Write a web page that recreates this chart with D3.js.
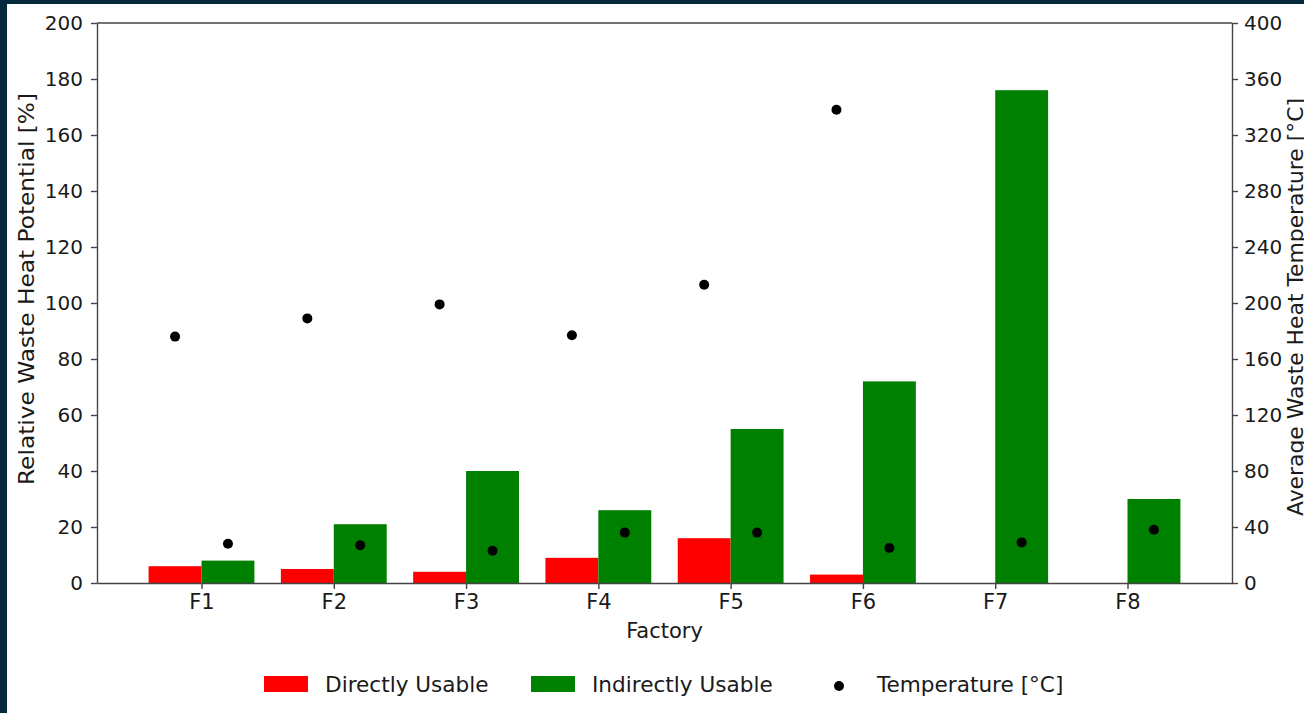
<!DOCTYPE html>
<html>
<head>
<meta charset="utf-8">
<script src="https://cdn.jsdelivr.net/npm/d3@7/dist/d3.min.js"></script>
<style>
  html, body { margin: 0; padding: 0; background: #03293a; }
  svg { display: block; }
  text { font-family: "DejaVu Sans", sans-serif; fill: #1a1a1a; }
</style>
</head>
<body>
<svg id="chart" width="1304" height="713"></svg>
<script>
const categories = ["F1", "F2", "F3", "F4", "F5", "F6", "F7", "F8"];
const directlyUsable = [6, 5, 4, 9, 16, 3, 0, 0];
const indirectlyUsable = [8, 21, 40, 26, 55, 72, 176, 30];
const tempDirect = [176, 189, 199, 177, 213, 338, null, null];
const tempIndirect = [28, 27, 23, 36, 36, 25, 29, 38];
const leftTicks = [0, 20, 40, 60, 80, 100, 120, 140, 160, 180, 200];
const rightTicks = [0, 40, 80, 120, 160, 200, 240, 280, 320, 360, 400];
const legendLabels = ["Directly Usable", "Indirectly Usable", "Temperature [°C]"];

const W = 1304, H = 713;
const plot = { left: 97, right: 1232, top: 23, bottom: 583 };
const barW = 0.4;

const svg = d3.select("#chart");
svg.append("rect").attr("x", 0).attr("y", 0).attr("width", W).attr("height", H).attr("fill", "#03293a");
svg.append("rect").attr("x", 7).attr("y", 4).attr("width", W - 7).attr("height", H - 4).attr("fill", "#ffffff");

const x = d3.scaleLinear().domain([-0.79, 7.79]).range([plot.left, plot.right]);
const yL = d3.scaleLinear().domain([0, 200]).range([plot.bottom, plot.top]);
const yR = d3.scaleLinear().domain([0, 400]).range([plot.bottom, plot.top]);
const bw = x(barW) - x(0);

const g = svg.append("g");

// bars
g.selectAll("rect.direct").data(directlyUsable).join("rect")
  .attr("class", "direct")
  .attr("x", (d, i) => x(i - barW))
  .attr("width", bw)
  .attr("y", d => yL(d))
  .attr("height", d => yL(0) - yL(d))
  .attr("fill", "#ff0000");

g.selectAll("rect.indirect").data(indirectlyUsable).join("rect")
  .attr("class", "indirect")
  .attr("x", (d, i) => x(i))
  .attr("width", bw)
  .attr("y", d => yL(d))
  .attr("height", d => yL(0) - yL(d))
  .attr("fill", "#008000");

// temperature dots
const dots = [];
tempDirect.forEach((t, i) => { if (t !== null) dots.push({ xv: i - barW / 2, t }); });
tempIndirect.forEach((t, i) => { if (t !== null) dots.push({ xv: i + barW / 2, t }); });
g.selectAll("circle.temp").data(dots).join("circle")
  .attr("class", "temp")
  .attr("cx", d => x(d.xv))
  .attr("cy", d => yR(d.t))
  .attr("r", 5)
  .attr("fill", "#000000");

// axes
const axisColor = "#444";
function styleAxis(sel) {
  sel.selectAll("path.domain").attr("stroke", axisColor).attr("stroke-width", 1.4);
  sel.selectAll(".tick line").attr("stroke", axisColor).attr("stroke-width", 1.4);
  sel.selectAll(".tick text").attr("font-size", 20).attr("font-family", "DejaVu Sans").attr("fill", "#1a1a1a");
}

const axB = svg.append("g").attr("transform", `translate(0,${plot.bottom})`)
  .call(d3.axisBottom(x).tickValues(d3.range(categories.length)).tickFormat(i => categories[i])
    .tickSizeInner(6).tickSizeOuter(0).tickPadding(5));
styleAxis(axB);
axB.selectAll(".tick text").attr("font-size", 21);

const axL = svg.append("g").attr("transform", `translate(${plot.left},0)`)
  .call(d3.axisLeft(yL).tickValues(leftTicks).tickFormat(d3.format("d"))
    .tickSizeInner(6).tickSizeOuter(0).tickPadding(8));
styleAxis(axL);

const axR = svg.append("g").attr("transform", `translate(${plot.right},0)`)
  .call(d3.axisRight(yR).tickValues(rightTicks).tickFormat(d3.format("d"))
    .tickSizeInner(6).tickSizeOuter(0).tickPadding(6));
styleAxis(axR);

// top spine
svg.append("line").attr("x1", plot.left).attr("x2", plot.right)
  .attr("y1", plot.top).attr("y2", plot.top)
  .attr("stroke", axisColor).attr("stroke-width", 1.4);

// axis titles
svg.append("text").attr("x", (plot.left + plot.right) / 2).attr("y", 638)
  .attr("text-anchor", "middle").attr("font-size", 21).text("Factory");

svg.append("text")
  .attr("transform", `translate(27,289) rotate(-90)`)
  .attr("dy", "0.35em")
  .attr("text-anchor", "middle").attr("font-size", 20.5)
  .attr("textLength", 392).attr("lengthAdjust", "spacingAndGlyphs")
  .text("Relative Waste Heat Potential [%]");

svg.append("text")
  .attr("transform", `translate(1296,307) rotate(-90)`)
  .attr("dy", "0.35em")
  .attr("text-anchor", "middle").attr("font-size", 20.5)
  .attr("textLength", 418).attr("lengthAdjust", "spacingAndGlyphs")
  .text("Average Waste Heat Temperature [°C]");

// legend
const legY = 684;
const leg = svg.append("g");
leg.append("rect").attr("x", 264).attr("y", legY - 8).attr("width", 44).attr("height", 16).attr("fill", "#ff0000");
leg.append("text").attr("x", 325).attr("y", legY).attr("dy", "0.35em").attr("font-size", 21.6).text(legendLabels[0]);
leg.append("rect").attr("x", 531).attr("y", legY - 8).attr("width", 44).attr("height", 16).attr("fill", "#008000");
leg.append("text").attr("x", 592).attr("y", legY).attr("dy", "0.35em").attr("font-size", 21.6).text(legendLabels[1]);
leg.append("circle").attr("cx", 839).attr("cy", legY + 2).attr("r", 5).attr("fill", "#000");
leg.append("text").attr("x", 877).attr("y", legY).attr("dy", "0.35em").attr("font-size", 21.6).text(legendLabels[2]);
</script>
</body>
</html>
